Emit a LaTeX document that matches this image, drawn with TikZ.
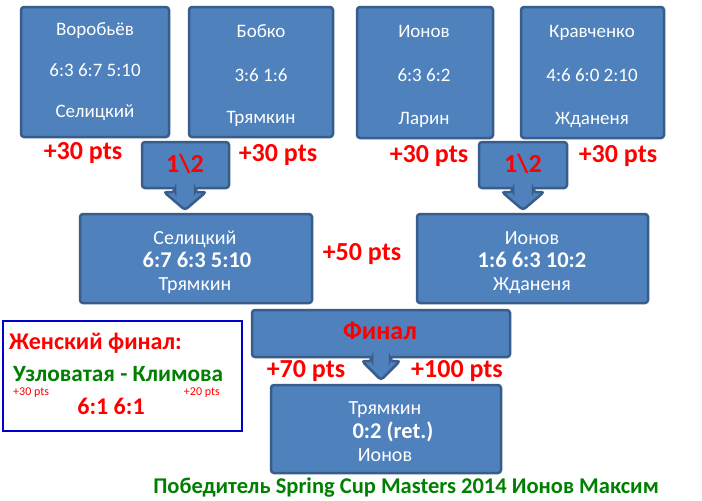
\documentclass[tikz,border=0pt]{standalone}
\usepackage{fontspec}
\setmainfont{Carlito}
\definecolor{boxfill}{RGB}{79,129,189}
\definecolor{boxline}{RGB}{56,93,138}
\definecolor{ptsred}{RGB}{255,0,0}
\definecolor{wingreen}{RGB}{0,128,0}
\definecolor{wblue}{RGB}{0,0,204}
\begin{document}
\begin{tikzpicture}[x=1pt,y=-1pt,
  box/.style={draw=boxline, fill=boxfill, line width=2.5pt, rounded corners=3pt, inner sep=0pt},
  wt/.style={text=white, anchor=base, inner sep=0pt, font=\fontsize{19}{22}\selectfont},
  wtm/.style={text=white, anchor=base, inner sep=0pt, font=\fontsize{20}{24}\selectfont},
  wtb/.style={text=white, anchor=base, inner sep=0pt, font=\fontsize{22.5}{26}\selectfont\bfseries},
  pts/.style={text=ptsred, anchor=base, inner sep=0pt, font=\fontsize{26}{30}\selectfont\bfseries},
  grn/.style={text=wingreen, anchor=base, inner sep=0pt, font=\fontsize{22.5}{26}\selectfont\bfseries}
]
\useasboundingbox[fill=white] (0,0) rectangle (702,501);

% top boxes
\node[box, minimum width=148pt, minimum height=130pt] (b1) at (95,72) {};
\node[box, minimum width=144pt, minimum height=130pt] (b2) at (261,72) {};
\node[box, minimum width=136pt, minimum height=131pt] (b3) at (425,72.5) {};
\node[box, minimum width=143pt, minimum height=131pt] (b4) at (592.5,72.5) {};

\node[wt] (b1a) at (95,35) {Воробьёв};
\node[wt] (b1b) at (95,76) {6:3 6:7 5:10};
\node[wt] (b1c) at (95,117) {Селицкий};
\node[wt] (b2a) at (261,37) {Бобко};
\node[wt] (b2b) at (261,81) {3:6 1:6};
\node[wt] (b2c) at (261,123) {Трямкин};
\node[wt] (b3a) at (424,37) {Ионов};
\node[wt] (b3b) at (424,81) {6:3 6:2};
\node[wt] (b3c) at (424,124) {Ларин};
\node[wt] (b4a) at (592,37) {Кравченко};
\node[wt] (b4b) at (592,81) {4:6 6:0 2:10};
\node[wt] (b4c) at (592,124) {Жданеня};

% points top
\node[pts] (p1) at (83,159) {+30 pts};
\node[pts] (p2) at (278,161) {+30 pts};
\node[pts] (p3) at (429,162) {+30 pts};
\node[pts] (p4) at (618,162) {+30 pts};

% callouts 1\2
\draw[box] (142,142) -- (229,142) -- (229,188) -- (195,188) -- (195,192) -- (206,192)
  -- (185,210) -- (164,192) -- (175,192) -- (175,188) -- (142,188) -- cycle;
\node[pts] (c1) at (185,172) {1\textbackslash2};
\draw[box] (479,142) -- (567,142) -- (567,188) -- (533,188) -- (533,192) -- (544,192)
  -- (523,210) -- (502,192) -- (513,192) -- (513,188) -- (479,188) -- cycle;
\node[pts] (c2) at (523,172) {1\textbackslash2};

% semifinal boxes
\node[box, minimum width=232pt, minimum height=89pt] (s1) at (196,258.5) {};
\node[box, minimum width=231pt, minimum height=89pt] (s2) at (532.5,258.5) {};
\node[wtm] (s1a) at (195,244) {Селицкий};
\node[wtb] (s1b) at (197,267) {6:7 6:3 5:10};
\node[wtm] (s1c) at (195,290) {Трямкин};
\node[wtm] (s2a) at (532,244) {Ионов};
\node[wtb] (s2b) at (532,267) {1:6 6:3 10:2};
\node[wtm] (s2c) at (532,290) {Жданеня};
\node[pts] (p5) at (362,260) {+50 pts};

% final callout
\draw[box] (252,310) -- (510,310) -- (510,357) -- (390,357) -- (390,361) -- (400,361)
  -- (381,380) -- (362,361) -- (372,361) -- (372,357) -- (252,357) -- cycle;
\node[pts] (fin) at (380,339) {Финал};
\node[pts] (p6) at (306,377) {+70 pts};
\node[pts] (p7) at (457,377) {+100 pts};

% final box
\node[box, minimum width=230pt, minimum height=88pt] (f) at (386,429) {};
\node[wtm] (fa) at (385,414) {Трямкин};
\node[wtb] (fb) at (393,438) {0:2 (ret.)};
\node[wtm] (fc) at (385,461) {Ионов};

% women's final
\node[draw=wblue, line width=2pt, minimum width=239pt, minimum height=110pt, inner sep=0pt] (w) at (122.5,376) {};
\node[pts, anchor=base west, font=\fontsize{24}{28}\selectfont\bfseries] (wh) at (9,349) {Женский финал:};
\node[grn, anchor=base west, font=\fontsize{23.3}{28}\selectfont\bfseries] (wn) at (13,381) {Узловатая - Климова};
\node[text=ptsred, anchor=base west, inner sep=0pt, font=\fontsize{12}{14}\selectfont] (w1) at (13,395) {+30 pts};
\node[text=ptsred, anchor=base east, inner sep=0pt, font=\fontsize{12}{14}\selectfont] (w2) at (220,395) {+20 pts};
\node[pts, font=\fontsize{24}{28}\selectfont\bfseries] (ws) at (111,414) {6:1 6:1};

% winner
\node[grn] (win) at (406,493) {Победитель Spring Cup Masters 2014 Ионов Максим};
\end{tikzpicture}
\end{document}
